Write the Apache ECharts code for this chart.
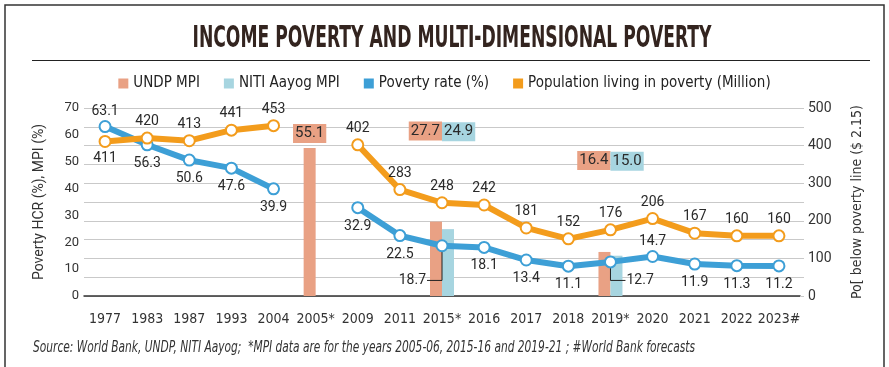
<!DOCTYPE html>
<html>
<head>
<meta charset="utf-8">
<script src="https://cdn.jsdelivr.net/npm/echarts@6/dist/echarts.min.js"></script>
<style>html,body{margin:0;padding:0;background:#fff;}#c{width:889px;height:367px;}</style>
</head>
<body>
<div id="c"></div>
<script>
// ---- data ----
const categories = ['1977','1983','1987','1993','2004','2005*','2009','2011','2015*','2016','2017','2018','2019*','2020','2021','2022','2023#'];
const povertyRate = [63.1,56.3,50.6,47.6,39.9,null,32.9,22.5,18.7,18.1,13.4,11.1,12.7,14.7,11.9,11.3,11.2];
const populationPoor = [411,420,413,441,453,null,402,283,248,242,181,152,176,206,167,160,160];
const undpMpi = [null,null,null,null,null,55.1,null,null,27.7,null,null,null,16.4,null,null,null,null];
const nitiMpi = [null,null,null,null,null,null,null,null,24.9,null,null,null,15.0,null,null,null,null];
const leftTicks = { min: 0, max: 70, interval: 10 };
const rightTicks = { min: 0, max: 500, interval: 50, labelStep: 100 };
const seriesNames = ['UNDP MPI','NITI Aayog MPI','Poverty rate (%)','Population living in poverty (Million)'];
const titleText = 'INCOME POVERTY AND MULTI-DIMENSIONAL POVERTY';
const sourceText = 'Source: World Bank, UNDP, NITI Aayog;  *MPI data are for the years 2005-06, 2015-16 and 2019-21 ; #World Bank forecasts';
const leftAxisName = 'Poverty HCR (%), MPI (%)';
const rightAxisName = 'Po[ below poverty line ($ 2.15)';

// ---- styles ----
const C_UNDP = '#e9a184', C_NITI = '#a7d5e0', C_BLUE = '#3d9fd6', C_ORANGE = '#f39c1c';
const TXT = '#2a2a2a';
const NUM_FONT = 'Roboto';
const NARROW = "'Liberation Sans Narrow','DejaVu Sans Condensed',sans-serif";

// label placement choices (styling only)
const blueTop = new Set(['1977','2020']);
const blueLeader = { '2015*': -1, '2019*': 1 };
const orangeBottom = new Set(['1977']);
const mpiLabelShift = { '2015*': [-76, -83], '2019*': [-77, -80] };

function measure(text, font) {
  const c = document.createElement('canvas').getContext('2d');
  c.font = font; return c.measureText(text).width;
}
const titleFont = "bold 30px 'DejaVu Sans Condensed'";
const titleScale = 519 / measure(titleText, titleFont);
const sourceFont = "italic 15px 'Liberation Sans Narrow','DejaVu Sans Condensed'";
const sourceScale = 662 / measure(sourceText, sourceFont);

const blueData = povertyRate.map((v, i) => {
  const c = categories[i];
  if (c in blueLeader) return { value: v, label: { show: false } };
  if (blueTop.has(c)) return { value: v, label: { position: 'top', distance: 2 } };
  return v;
});
const orangeData = populationPoor.map((v, i) => {
  if (orangeBottom.has(categories[i])) return { value: v, label: { position: 'bottom', distance: 4 } };
  return v;
});
function mpiData(arr, isUndp) {
  return arr.map((v, i) => {
    if (v == null) return null;
    const c = categories[i];
    const sh = mpiLabelShift[c];
    if (!sh) return { value: v, label: { align: 'center' } };
    return { value: v, label: {
      align: isUndp ? 'right' : 'left',
      offset: [isUndp ? 6 : -6, isUndp ? sh[0] : sh[1]]
    } };
  });
}
const leaderData = categories.map((c, i) => (c in blueLeader) ? [i, povertyRate[i], blueLeader[c]] : null).filter(Boolean);

const mpiLabel = {
  show: true, position: 'top', distance: 5, color: TXT,
  fontFamily: NUM_FONT, fontSize: 15, lineHeight: 15, padding: [2, 2],
  formatter: p => p.value.toFixed(1)
};

const chart = echarts.init(document.getElementById('c'), null, { renderer: 'canvas' });
chart.setOption({
  animation: false,
  backgroundColor: '#fff',
  legend: {
    top: 71, left: 'center', icon: 'rect', itemWidth: 10, itemHeight: 10, itemGap: 24,
    data: seriesNames,
    textStyle: { fontFamily: NARROW, fontSize: 15, color: '#222' }
  },
  grid: { left: 84, right: 89, top: 108, bottom: 71 },
  xAxis: {
    type: 'category', data: categories,
    axisLine: { lineStyle: { color: '#333', width: 1.5 } },
    axisTick: { alignWithLabel: true, length: 10, lineStyle: { color: '#333', width: 1 } },
    axisLabel: { margin: 16, color: '#333', fontFamily: NARROW, fontSize: 14, interval: 0 }
  },
  yAxis: [
    {
      type: 'value', min: leftTicks.min, max: leftTicks.max, interval: leftTicks.interval,
      name: leftAxisName, nameLocation: 'middle', nameRotate: 90, nameGap: 38,
      nameTextStyle: { fontFamily: NUM_FONT, fontSize: 14, color: '#333' },
      axisLine: { show: false }, axisTick: { show: false }, splitLine: { show: false },
      axisLabel: { margin: 5, color: '#333', fontFamily: NUM_FONT, fontSize: 13 }
    },
    {
      type: 'value', min: rightTicks.min, max: rightTicks.max, interval: rightTicks.interval,
      name: rightAxisName, nameLocation: 'middle', nameRotate: 90, nameGap: 50,
      nameTextStyle: { fontFamily: NARROW, fontSize: 14, color: '#333' },
      axisLine: { show: false },
      axisTick: { show: true, length: 4, lineStyle: { color: '#c9c9c9' } },
      splitLine: { show: true, lineStyle: { color: '#c9c9c9', width: 1 } },
      axisLabel: { margin: 8, color: '#333', fontFamily: NUM_FONT, fontSize: 14,
        formatter: v => (v % rightTicks.labelStep === 0 ? String(v) : '') }
    }
  ],
  series: [
    { name: seriesNames[0], type: 'bar', yAxisIndex: 0, data: mpiData(undpMpi, true),
      barWidth: 12, barGap: '0%', z: 2, itemStyle: { color: C_UNDP },
      label: Object.assign({}, mpiLabel, { backgroundColor: C_UNDP }) },
    { name: seriesNames[1], type: 'bar', yAxisIndex: 0, data: mpiData(nitiMpi, false),
      barWidth: 12, barGap: '0%', z: 2, itemStyle: { color: C_NITI },
      label: Object.assign({}, mpiLabel, { backgroundColor: C_NITI }) },
    { name: seriesNames[2], type: 'line', yAxisIndex: 0, data: blueData, z: 4,
      color: C_BLUE, connectNulls: false,
      symbol: 'emptyCircle', symbolSize: 11, lineStyle: { width: 6, color: C_BLUE },
      itemStyle: { color: C_BLUE, borderWidth: 1.5 },
      label: { show: true, position: 'bottom', distance: 5, color: TXT, fontFamily: NUM_FONT, fontSize: 14,
        formatter: p => p.value.toFixed(1) } },
    { name: seriesNames[3], type: 'line', yAxisIndex: 1, data: orangeData, z: 5,
      color: C_ORANGE, connectNulls: false,
      symbol: 'emptyCircle', symbolSize: 11, lineStyle: { width: 6, color: C_ORANGE },
      itemStyle: { color: C_ORANGE, borderWidth: 1.5 },
      label: { show: true, position: 'top', distance: 3, color: TXT, fontFamily: NUM_FONT, fontSize: 14 } },
    { type: 'custom', yAxisIndex: 0, z: 3, data: leaderData, silent: true,
      renderItem: (params, api) => {
        const p = api.coord([api.value(0), api.value(1)]);
        const low = api.coord([api.value(0), 5.8]);
        const side = api.value(2);
        const ex = p[0] + side * 15;
        return { type: 'group', children: [
          { type: 'polyline', shape: { points: [[p[0], p[1]], [p[0], low[1]], [ex, low[1]]] },
            style: { stroke: '#222', lineWidth: 1, fill: null } },
          { type: 'text', x: ex + side * 1, y: low[1],
            style: { text: api.value(1).toFixed(1), fill: TXT, font: '14px ' + NUM_FONT,
              textAlign: side < 0 ? 'right' : 'left', textVerticalAlign: 'middle' } }
        ] };
      } }
  ],
  graphic: [
    { type: 'rect', shape: { x: 5, y: 5, width: 879, height: 420 }, silent: true,
      style: { fill: null, stroke: '#333', lineWidth: 1.5 } },
    { type: 'text', x: 452, y: 39, scaleX: titleScale, silent: true,
      style: { text: titleText, font: titleFont, fill: '#33241f', textAlign: 'center', textVerticalAlign: 'middle' } },
    { type: 'line', shape: { x1: 32, y1: 60.5, x2: 870, y2: 60.5 }, silent: true,
      style: { stroke: '#222', lineWidth: 1.2 } },
    { type: 'text', x: 33, y: 348, scaleX: sourceScale, silent: true,
      style: { text: sourceText, font: sourceFont, fill: '#333', textAlign: 'left', textVerticalAlign: 'middle' } }
  ]
});
</script>
</body>
</html>
